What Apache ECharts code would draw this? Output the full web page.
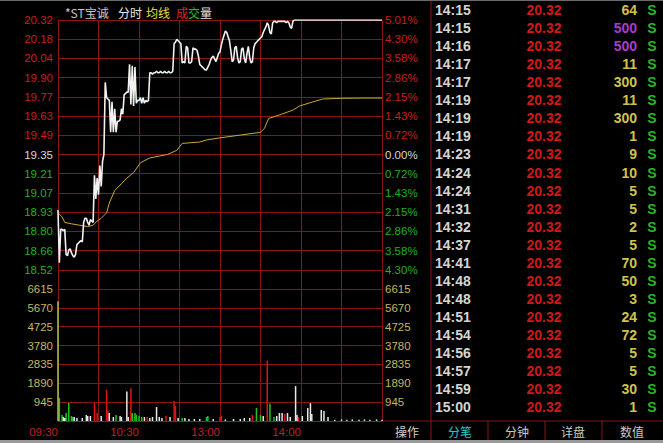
<!DOCTYPE html>
<html><head><meta charset="utf-8">
<script src="https://cdn.jsdelivr.net/npm/echarts@6/dist/echarts.min.js"></script>
<style>html,body{margin:0;padding:0;background:#000;}#c{width:663px;height:443px;}</style>
</head><body><div id="c"></div>
<script>
// ---- data ----
const prevClose = 19.35;
const priceMax = 20.32;
const priceMin = 18.38;
const volMax = 6615;
const volStep = 945;
const timeLabelMinutes = [0, 60, 120, 180];
const timeLabelTexts = ['09:30', '10:30', '13:00', '14:00'];

// [minute, price]
const pricePts = [[0,18.95],[1,18.57],[2,18.81],[3,18.81],[4,18.80],[5,18.81],[6,18.63],[7,18.62],[8,18.66],[9,18.67],[10,18.64],[11,18.62],[12,18.61],[13,18.63],[14,18.70],[15,18.71],[16,18.72],[17,18.73],[18,18.72],[19,18.86],[20,18.89],[21,18.89],[22,18.86],[23,18.84],[24,18.88],[25,18.87],[26,18.86],[27,19.20],[28,19.03],[29,19.18],[30,19.06],[31,19.27],[32,19.12],[33,19.30],[34,19.35],[35,19.87],[36,19.76],[37,19.75],[38,19.74],[39,19.51],[40,19.73],[41,19.51],[42,19.68],[43,19.51],[44,19.59],[45,19.59],[46,19.60],[47,19.68],[48,19.64],[49,19.78],[50,19.79],[51,19.80],[52,19.80],[53,20.00],[54,19.71],[55,19.99],[56,19.70],[57,19.98],[58,19.72],[59,19.74],[60,19.74],[61,19.76],[62,19.72],[63,19.76],[64,19.72],[65,19.74],[66,19.73],[67,19.74],[68,19.94],[69,19.94],[70,19.93],[71,19.94],[72,19.94],[73,19.95],[74,19.94],[75,19.94],[76,19.95],[77,19.94],[78,19.94],[79,19.95],[80,19.94],[81,19.94],[82,19.95],[83,19.94],[84,19.94],[85,19.95],[86,20.15],[87,20.16],[88,20.18],[89,20.17],[90,20.16],[91,20.15],[92,20.01],[93,20.02],[94,20.01],[95,20.13],[96,20.12],[97,20.01],[98,20.01],[99,20.02],[100,20.12],[101,20.11],[102,20.11],[103,20.10],[104,20.06],[105,20.00],[106,19.99],[107,19.98],[108,19.97],[109,19.96],[110,19.96],[111,19.98],[112,20.00],[113,20.03],[114,20.05],[115,20.06],[116,20.04],[117,20.02],[118,20.05],[119,20.08],[120,20.09],[121,20.14],[122,20.18],[123,20.21],[124,20.24],[125,20.23],[126,20.20],[127,20.17],[128,20.10],[129,20.02],[130,20.03],[131,20.12],[132,20.13],[133,20.05],[134,20.01],[135,20.02],[136,20.11],[137,20.12],[138,20.04],[139,20.01],[140,20.08],[141,20.13],[142,20.05],[143,20.01],[144,20.02],[145,20.12],[146,20.15],[147,20.16],[148,20.17],[149,20.18],[150,20.19],[151,20.20],[152,20.23],[153,20.25],[154,20.27],[155,20.30],[156,20.28],[157,20.23],[158,20.22],[159,20.30],[160,20.31],[161,20.31],[162,20.30],[163,20.31],[164,20.31],[165,20.31],[166,20.31],[167,20.31],[168,20.31],[169,20.30],[170,20.31],[171,20.30],[172,20.27],[173,20.26],[174,20.31],[175,20.32],[240,20.32]];

// [minute, average price]
const avgPts = [[0,18.93],[3,18.90],[5,18.86],[10,18.85],[16,18.84],[22,18.83],[26,18.84],[29,18.87],[32,18.89],[34,18.91],[36,18.93],[38,19.00],[42,19.09],[47,19.14],[51,19.18],[56,19.22],[61,19.29],[68,19.325],[81,19.35],[88,19.38],[92,19.43],[105,19.44],[110,19.455],[120,19.47],[135,19.49],[150,19.51],[153,19.54],[156,19.61],[164,19.635],[174,19.67],[179,19.70],[189,19.73],[196,19.75],[209,19.755],[225,19.757],[240,19.757]];

// [minute, volume]
const volRed = [[27,900],[29,400],[36,1560],[37,500],[54,1640],[66,200],[80,250],[86,1000],[87,750],[120,200],[121,250],[144,300],[155,3030],[168,350],[178,200]];
const volGreen = [[1,1150],[3,300],[6,400],[8,900],[10,250],[11,200],[43,300],[55,400],[57,400],[58,300],[60,250],[62,200],[92,150],[110,200],[111,250],[147,650],[150,300],[157,880],[160,200]];
const volWhite = [[4,200],[5,150],[12,200],[14,150],[18,150],[21,300],[22,250],[24,250],[32,250],[38,400],[41,200],[46,250],[47,200],[51,1480],[52,200],[64,200],[68,150],[70,200],[73,700],[75,200],[77,150],[83,200],[89,150],[94,150],[97,100],[101,100],[105,100],[115,100],[124,80],[130,100],[135,100],[138,150],[142,150],[152,250],[162,250],[164,400],[166,400],[170,400],[172,200],[176,1750],[177,300],[181,250],[185,650],[187,900],[188,350],[195,550],[197,500],[200,200],[205,60],[210,80],[214,60],[218,80],[223,60],[227,80],[231,60],[236,80],[240,60]];
const volOpen = [[0,6000]];

// trade ticks table
const tradeTimes = ['14:15','14:15','14:16','14:17','14:17','14:19','14:19','14:19','14:23','14:24','14:24','14:31','14:32','14:37','14:41','14:48','14:48','14:51','14:54','14:56','14:57','14:59','15:00'];
const tradePrices = ['20.32','20.32','20.32','20.32','20.32','20.32','20.32','20.32','20.32','20.32','20.32','20.32','20.32','20.32','20.32','20.32','20.32','20.32','20.32','20.32','20.32','20.32','20.32'];
const tradeVols = [64,500,500,11,300,11,300,1,9,10,5,5,2,5,70,50,3,24,72,5,5,30,1];
const tradeSides = ['S','S','S','S','S','S','S','S','S','S','S','S','S','S','S','S','S','S','S','S','S','S','S'];
const tabTexts = ['分笔','分钟','详盘','数值'];

// ---- chart ----
const RED = '#c81e1e', GREEN = '#22b022', WHITE = '#d8d8d8', GRIDC = '#8c1414';
const NUMFONT = '"Liberation Sans", Arial, sans-serif';
const CJK = '"Noto Sans CJK SC", sans-serif';
const pStep = (priceMax - prevClose) / 7;
function priceColor(v){ return Math.abs(v-prevClose) < 1e-4 ? WHITE : (v > prevClose ? RED : GREEN); }

const chart = echarts.init(document.getElementById('c'), null, {renderer:'svg'});

const volData = [];
volRed.forEach(p => volData.push({value:p, itemStyle:{color:'#e01414'}}));
volGreen.forEach(p => volData.push({value:p, itemStyle:{color:'#1ec81e'}}));
volWhite.forEach(p => volData.push({value:p, itemStyle:{color:'#e8e8e8'}}));
volOpen.forEach(p => volData.push({value:p, itemStyle:{color:'#9ccc50'}}));

const graphics = [];
// title
const titleParts = [['*ST宝诚',65,'#c8c8c8'],['分时',118,'#e8e8e8'],['均线',146,'#e0e040'],['成',176,'#e02020'],['交',188,'#20c020'],['量',200,'#e0e0e0']];
titleParts.forEach(t => graphics.push({type:'text', x:t[1], y:12, style:{text:t[0], fill:t[2], font:'12px '+CJK, verticalAlign:'middle'}}));
// table
const rowH = 18.06;
tradeTimes.forEach((t,i) => {
  const y = 10 + i*rowH;
  graphics.push({type:'text', x:435, y:y, style:{text:t, fill:'#d4d4d4', font:'bold 14px '+NUMFONT, verticalAlign:'middle'}});
  graphics.push({type:'text', x:544, y:y, style:{text:tradePrices[i], fill:'#d01818', font:'bold 14px '+NUMFONT, align:'center', verticalAlign:'middle'}});
  graphics.push({type:'text', x:637, y:y, style:{text:String(tradeVols[i]), fill: tradeVols[i]>=500 ? '#a83cc8' : '#d0c24a', font:'bold 14px '+NUMFONT, align:'right', verticalAlign:'middle'}});
  graphics.push({type:'text', x:652, y:y, style:{text:tradeSides[i], fill:'#28b428', font:'bold 14px '+NUMFONT, align:'center', verticalAlign:'middle'}});
});
// panel lines
graphics.push({type:'line', shape:{x1:431,y1:0,x2:431,y2:440}, style:{stroke:GRIDC, lineWidth:1}});
graphics.push({type:'line', shape:{x1:382,y1:421,x2:663,y2:421}, style:{stroke:GRIDC, lineWidth:1}});
[488,545,602].forEach(x => graphics.push({type:'line', shape:{x1:x,y1:421,x2:x,y2:440}, style:{stroke:GRIDC, lineWidth:1}}));
graphics.push({type:'text', x:407, y:431, style:{text:'操作', fill:'#d0d0d0', font:'12px '+CJK, align:'center', verticalAlign:'middle'}});
const tabX = [460,517,573,632];
tabTexts.forEach((t,i) => graphics.push({type:'text', x:tabX[i], y:431, style:{text:t, fill: i===0 ? '#30c8c8' : '#c8c8c8', font:'12px '+CJK, align:'center', verticalAlign:'middle'}}));
graphics.push({type:'rect', shape:{x:0,y:440,width:663,height:3}, style:{fill:'#9a9a9a'}});
graphics.push({type:'rect', shape:{x:0,y:0,width:663,height:1}, style:{fill:'#6a6a6a'}});

const lblBase = {fontFamily:NUMFONT, fontSize:11.5};
const option = {
  backgroundColor:'#000',
  animation:false,
  grid:[{left:58, top:20, width:324, height:269}, {left:58, top:289, width:324, height:132}],
  xAxis:[
    {type:'value', gridIndex:0, min:0, max:240, interval:30, axisLine:{show:false}, axisTick:{show:false}, axisLabel:{show:false}, splitLine:{show:true, lineStyle:{color:GRIDC, width:1}}},
    {type:'value', gridIndex:1, min:0, max:240, interval:30, axisLine:{show:true, lineStyle:{color:'#a01818', width:1}}, axisTick:{show:false},
     axisLabel:Object.assign({color:'#c02020', align:'right', margin:5, formatter:v => { const k = timeLabelMinutes.indexOf(v); return k>=0 ? timeLabelTexts[k] : ''; }}, lblBase),
     splitLine:{show:true, lineStyle:{color:GRIDC, width:1}}}
  ],
  yAxis:[
    {type:'value', gridIndex:0, position:'left', min:priceMin, max:priceMax, interval:pStep, axisLine:{show:false}, axisTick:{show:false},
     axisLabel:Object.assign({margin:5, color:v => priceColor(v), formatter:v => Math.abs(v-priceMin)<1e-4 ? '' : v.toFixed(2)}, lblBase),
     splitLine:{show:true, lineStyle:{color:GRIDC, width:1}}},
    {type:'value', gridIndex:0, position:'right', min:priceMin, max:priceMax, interval:pStep, axisLine:{show:false}, axisTick:{show:false},
     axisLabel:Object.assign({margin:3, color:v => priceColor(v), formatter:v => Math.abs(v-priceMin)<1e-4 ? '' : (Math.abs(v-prevClose)/prevClose*100).toFixed(2)+'%'}, lblBase),
     splitLine:{show:false}},
    {type:'value', gridIndex:1, position:'left', min:0, max:volMax, interval:volStep, axisLine:{show:false}, axisTick:{show:false},
     axisLabel:Object.assign({margin:5, color:'#c0b860', formatter:v => v===0 ? '' : String(Math.round(v))}, lblBase),
     splitLine:{show:true, lineStyle:{color:GRIDC, width:1}}},
    {type:'value', gridIndex:1, position:'right', min:0, max:volMax, interval:volStep, axisLine:{show:false}, axisTick:{show:false},
     axisLabel:Object.assign({margin:3, color:'#c0b860', formatter:v => v===0 ? '' : String(Math.round(v))}, lblBase),
     splitLine:{show:false}}
  ],
  series:[
    {type:'line', xAxisIndex:0, yAxisIndex:0, data:avgPts, showSymbol:false, lineStyle:{color:'#c8a838', width:1}, z:3},
    {type:'line', xAxisIndex:0, yAxisIndex:0, data:pricePts, showSymbol:false, lineStyle:{color:'#f2f2f2', width:1.6}, z:4},
    {type:'bar', xAxisIndex:1, yAxisIndex:2, data:volData, barWidth:1.5}
  ],
  graphic:graphics
};
chart.setOption(option);
</script></body></html>
